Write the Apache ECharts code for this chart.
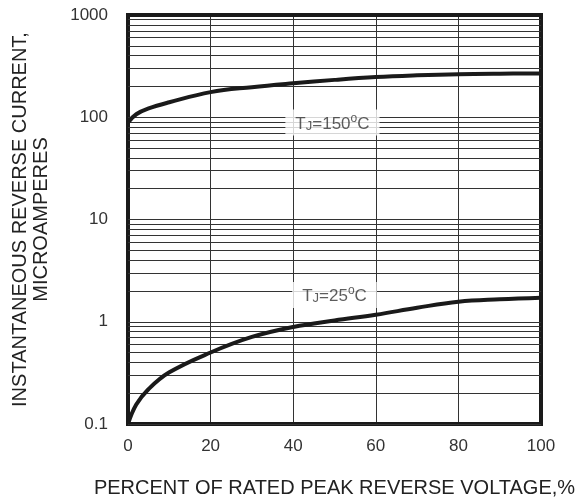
<!DOCTYPE html>
<html>
<head>
<meta charset="utf-8">
<script src="https://cdn.jsdelivr.net/npm/echarts@6/dist/echarts.min.js"></script>
<style>
  html, body { margin: 0; padding: 0; background: #fff; }
  #chart { width: 584px; height: 503px; }
</style>
</head>
<body>
<div id="chart"></div>
<script>
// percent of rated peak reverse voltage
const voltagePct = [0, 2, 5, 10, 20, 30, 40, 50, 60, 70, 80, 90, 100]
// reverse current, microamperes
const current150 = [89, 107, 122, 140, 176, 197, 215, 232, 247, 257, 264, 267, 268]
const current25 = [0.1, 0.155, 0.22, 0.32, 0.5, 0.71, 0.89, 1.03, 1.17, 1.37, 1.57, 1.66, 1.72]

const decades = [0.1, 1, 10, 100]
const minorSteps = [2, 3, 4, 5, 6, 7, 8, 9]

// curve labels: [x, y, temperature]
const curveLabels = [
  [49.5, 89, '150'],
  [50, 1.83, '25']
]

const font = 'Liberation Sans, Arial, sans-serif'

const gridLines = []
decades.forEach(d => {
  gridLines.push({ yAxis: d })
  minorSteps.forEach(m => gridLines.push({ yAxis: +(d * m).toPrecision(3) }))
})

const myChart = echarts.init(document.getElementById('chart'))
myChart.setOption({
  animation: false,
  grid: {
    left: 128,
    right: 43,
    top: 15,
    bottom: 78,
    show: true,
    borderColor: '#1a1a1a',
    borderWidth: 4,
    z: 5
  },
  xAxis: {
    type: 'value',
    min: 0,
    max: 100,
    interval: 20,
    axisLine: { show: false },
    axisTick: { show: false },
    axisLabel: { color: '#333', fontSize: 17, fontFamily: font, margin: 14 },
    splitLine: { show: true, lineStyle: { color: '#333', width: 1 } },
    name: 'PERCENT OF RATED PEAK REVERSE VOLTAGE,%',
    nameLocation: 'middle',
    nameGap: 54,
    nameTextStyle: { color: '#222', fontSize: 20, fontFamily: font }
  },
  yAxis: {
    type: 'log',
    logBase: 10,
    min: 0.1,
    max: 1000,
    axisLine: { show: false },
    axisTick: { show: false },
    axisLabel: {
      color: '#333', fontSize: 17, fontFamily: font, margin: 20,
      formatter: v => String(v)
    },
    splitLine: { show: false },
    name: 'INSTANTANEOUS REVERSE CURRENT,\nMICROAMPERES',
    nameLocation: 'middle',
    nameGap: 76,
    nameTextStyle: { color: '#222', fontSize: 20, fontFamily: font, lineHeight: 21 }
  },
  series: [
    {
      type: 'line',
      data: [],
      silent: true,
      markLine: {
        silent: true,
        symbol: 'none',
        label: { show: false },
        lineStyle: { color: '#333', width: 1, type: 'solid' },
        data: gridLines
      }
    },
    {
      name: 'TJ=150',
      type: 'line',
      smooth: 0.4,
      showSymbol: false,
      z: 6,
      lineStyle: { color: '#1a1a1a', width: 4 },
      data: voltagePct.map((x, i) => [x, current150[i]])
    },
    {
      name: 'TJ=25',
      type: 'line',
      smooth: 0.4,
      showSymbol: false,
      z: 6,
      lineStyle: { color: '#1a1a1a', width: 4 },
      data: voltagePct.map((x, i) => [x, current25[i]])
    },
    {
      type: 'scatter',
      symbolSize: 0,
      z: 7,
      data: curveLabels.map(l => ({ value: [l[0], l[1]], t: l[2] })),
      label: {
        show: true,
        position: 'inside',
        backgroundColor: '#fff',
        padding: [3, 10, 3, 10],
        formatter: p => '{b|T}{s|J}{b|=' + p.data.t + '}{o|o}{b|C}',
        rich: {
          b: { fontSize: 17, color: '#333', fontFamily: font, verticalAlign: 'bottom' },
          s: { fontSize: 13, color: '#333', fontFamily: font, verticalAlign: 'bottom' },
          o: { fontSize: 12, color: '#333', fontFamily: font, verticalAlign: 'top', padding: [0, 0, 8, 0] }
        }
      }
    }
  ]
})
</script>
</body>
</html>
